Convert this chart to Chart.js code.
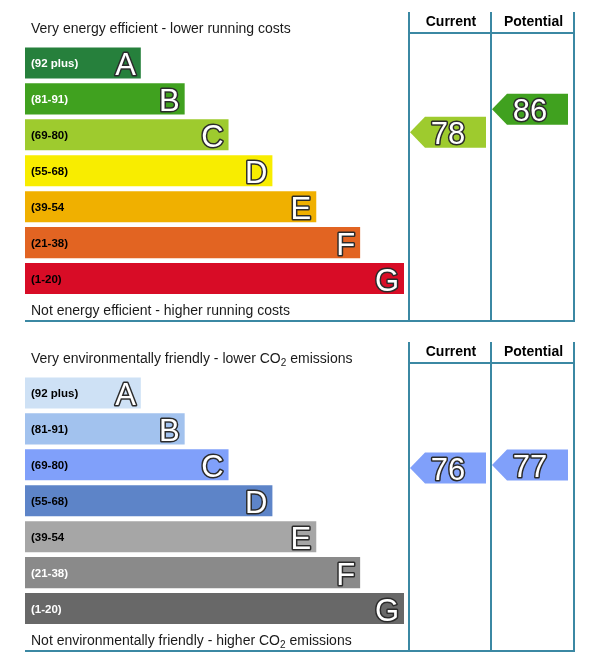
<!DOCTYPE html>
<html>
<head>
<meta charset="utf-8">
<script src="https://cdn.jsdelivr.net/npm/chart.js@4"></script>
<style>
    body { margin: 0; background: #fff; }
    canvas { display: block; }
</style>
</head>
<body>
<canvas id="energyChart" width="594" height="330"></canvas>
<canvas id="co2Chart" width="594" height="330"></canvas>
<script>
// band data
const bandLetters = ['A', 'B', 'C', 'D', 'E', 'F', 'G'];
const bandRanges = ['(92 plus)', '(81-91)', '(69-80)', '(55-68)', '(39-54', '(21-38)', '(1-20)'];
const bandMin = [92, 81, 69, 55, 39, 21, 1];
const bandSteps = [1, 2, 3, 4, 5, 6, 7];
const columnLabels = ['Current', 'Potential'];

// ratings (current, potential)
const energyScores = [78, 86];
const co2Scores = [76, 77];

const energyColors = ['#26803c', '#40a11f', '#9ecb2e', '#f8ed00', '#f0b000', '#e26422', '#d80c26'];
const co2Colors = ['#cee1f5', '#a2c2ee', '#80a0fa', '#5d84c8', '#a6a6a6', '#8a8a8a', '#686868'];

const baseStep = 1.64; // every bar has this extra length before the first step
const lineColor = '#3b88a3';
const font = '"Liberation Sans", Arial, sans-serif';

function drawParts(ctx, parts, x, y) {
    // draws text pieces, pieces flagged true are a subscript
    parts.forEach(p => {
        if (p[1]) {
            ctx.font = '10px ' + font;
            ctx.fillText(p[0], x, y + 4);
        } else {
            ctx.font = '14px ' + font;
            ctx.fillText(p[0], x, y);
        }
        x += ctx.measureText(p[0]).width;
    });
}

function outlined(ctx, text, x, y, align) {
    ctx.font = '31px ' + font;
    ctx.textAlign = align;
    ctx.textBaseline = 'alphabetic';
    ctx.lineJoin = 'round';
    ctx.lineWidth = 3;
    ctx.strokeStyle = '#2b2b2b';
    ctx.strokeText(text, x, y);
    ctx.fillStyle = '#fff';
    ctx.fillText(text, x, y);
}

function makeChart(id, opts) {
    const ratingPlugin = {
        id: 'rating',
        afterDatasetsDraw(chart) {
            const ctx = chart.ctx;
            const area = chart.chartArea;
            const bars = chart.getDatasetMeta(0).data;
            const score = chart.scales.score;
            ctx.save();

            // range labels and letters
            bars.forEach((bar, i) => {
                ctx.font = 'bold 11.5px ' + font;
                ctx.textAlign = 'left';
                ctx.textBaseline = 'middle';
                ctx.fillStyle = opts.labelColors[i];
                ctx.fillText(bandRanges[i], area.left + 6, bar.y + 1);
                outlined(ctx, bandLetters[i], bar.x - 5, bar.y + 12, 'right');
            });

            // heading and footer
            ctx.fillStyle = '#1a1a1a';
            ctx.textAlign = 'left';
            ctx.textBaseline = 'middle';
            drawParts(ctx, opts.title, 31, 29);
            drawParts(ctx, opts.footer, 31, 311);

            // table lines
            const cols = [409, 491, 574];
            ctx.strokeStyle = lineColor;
            ctx.lineWidth = 2;
            ctx.beginPath();
            cols.forEach(x => { ctx.moveTo(x, 12); ctx.lineTo(x, 322); });
            ctx.moveTo(cols[0], 33); ctx.lineTo(cols[2] + 1, 33);
            ctx.moveTo(area.left, 321); ctx.lineTo(cols[2] + 1, 321);
            ctx.stroke();

            ctx.fillStyle = '#000';
            ctx.font = 'bold 14px ' + font;
            ctx.textAlign = 'center';
            ctx.textBaseline = 'middle';
            columnLabels.forEach((t, j) => ctx.fillText(t, (cols[j] + cols[j + 1]) / 2 + 1, 22));

            // arrows
            opts.scores.forEach((s, j) => {
                const band = bandMin.findIndex(m => s >= m);
                const y = score.getPixelForValue(s);
                const x0 = cols[j] + 1;
                const x1 = x0 + 76;
                ctx.fillStyle = opts.colors[band];
                ctx.beginPath();
                ctx.moveTo(x0, y);
                ctx.lineTo(x0 + 15, y - 15.5);
                ctx.lineTo(x1, y - 15.5);
                ctx.lineTo(x1, y + 15.5);
                ctx.lineTo(x0 + 15, y + 15.5);
                ctx.closePath();
                ctx.fill();
                outlined(ctx, String(s), (x0 + x1) / 2, y + 12, 'center');
            });
            ctx.restore();
        }
    };

    return new Chart(document.getElementById(id), {
        type: 'bar',
        data: {
            labels: bandLetters,
            datasets: [{
                data: bandSteps.map(s => s + baseStep),
                backgroundColor: opts.colors,
                borderWidth: 0,
                barPercentage: 0.865,
                categoryPercentage: 1,
                yAxisID: 'y'
            }]
        },
        options: {
            indexAxis: 'y',
            responsive: false,
            animation: false,
            layout: {padding: {left: 25, right: 190, top: 45, bottom: 33.5}},
            plugins: {legend: {display: false}, tooltip: {enabled: false}},
            scales: {
                x: {display: false, min: 0, max: bandSteps[6] + baseStep},
                y: {display: false},
                score: {type: 'linear', axis: 'y', display: false, min: 26, max: 103}
            }
        },
        plugins: [ratingPlugin]
    });
}

makeChart('energyChart', {
    colors: energyColors,
    scores: energyScores,
    labelColors: ['#fff', '#fff', '#000', '#000', '#000', '#000', '#000'],
    title: [['Very energy efficient - lower running costs', false]],
    footer: [['Not energy efficient - higher running costs', false]]
});

makeChart('co2Chart', {
    colors: co2Colors,
    scores: co2Scores,
    labelColors: ['#000', '#000', '#000', '#000', '#000', '#fff', '#fff'],
    title: [['Very environmentally friendly - lower CO', false], ['2', true], [' emissions', false]],
    footer: [['Not environmentally friendly - higher CO', false], ['2', true], [' emissions', false]]
});
</script>
</body>
</html>
